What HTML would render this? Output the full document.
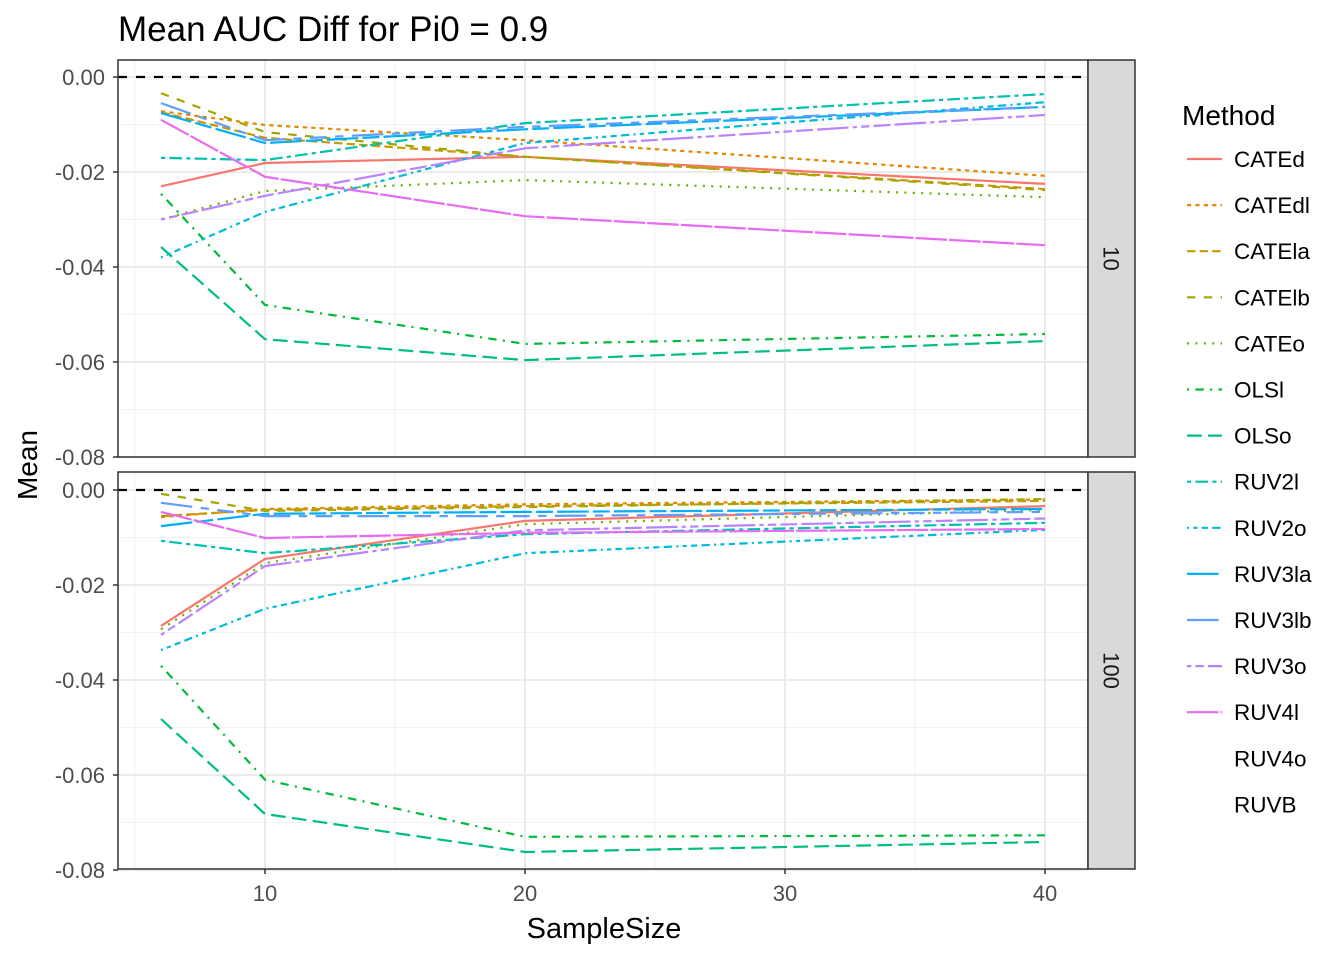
<!DOCTYPE html>
<html><head><meta charset="utf-8">
<style>
body{margin:0;background:#fff;}
svg{display:block;font-family:"Liberation Sans",sans-serif;}
</style></head>
<body>
<svg id="chart" width="1344" height="960" xmlns="http://www.w3.org/2000/svg"></svg>
<script>
const sampleSizes=[6,10,20,40];
const methods=["CATEd","CATEdl","CATEla","CATElb","CATEo","OLSl","OLSo","RUV2l","RUV2o","RUV3la","RUV3lb","RUV3o","RUV4l","RUV4o","RUVB"];
const panels=["10","100"];
const xTicks=[10,20,30,40];
const yTicks=[0,-0.02,-0.04,-0.06,-0.08];
const yTickLabels=["0.00","-0.02","-0.04","-0.06","-0.08"];
const p10CATEd=[-0.0230,-0.0181,-0.0168,-0.0225];
const p10CATEdl=[-0.0072,-0.0101,-0.0133,-0.0208];
const p10CATEla=[-0.0074,-0.0128,-0.0168,-0.0236];
const p10CATElb=[-0.0034,-0.0116,-0.0168,-0.0238];
const p10CATEo=[-0.0300,-0.0240,-0.0217,-0.0253];
const p10OLSl=[-0.0246,-0.0480,-0.0562,-0.0541];
const p10OLSo=[-0.0358,-0.0552,-0.0596,-0.0556];
const p10RUV2l=[-0.0170,-0.0175,-0.0097,-0.0036];
const p10RUV2o=[-0.0380,-0.0284,-0.0139,-0.0053];
const p10RUV3la=[-0.0076,-0.0139,-0.0110,-0.0063];
const p10RUV3lb=[-0.0055,-0.0133,-0.0105,-0.0063];
const p10RUV3o=[-0.0300,-0.0250,-0.0150,-0.0080];
const p10RUV4l=[-0.0090,-0.0210,-0.0293,-0.0354];
const p100CATEd=[-0.0286,-0.0145,-0.0065,-0.0034];
const p100CATEdl=[-0.0057,-0.0040,-0.0030,-0.0020];
const p100CATEla=[-0.0055,-0.0042,-0.0034,-0.0023];
const p100CATElb=[-0.0008,-0.0044,-0.0036,-0.0019];
const p100CATEo=[-0.0293,-0.0154,-0.0072,-0.0042];
const p100OLSl=[-0.0370,-0.0610,-0.0730,-0.0727];
const p100OLSo=[-0.0482,-0.0682,-0.0762,-0.0741];
const p100RUV2l=[-0.0107,-0.0133,-0.0093,-0.0069];
const p100RUV2o=[-0.0337,-0.0250,-0.0133,-0.0084];
const p100RUV3la=[-0.0076,-0.0050,-0.0046,-0.0040];
const p100RUV3lb=[-0.0027,-0.0055,-0.0055,-0.0046];
const p100RUV3o=[-0.0305,-0.0160,-0.0085,-0.0060];
const p100RUV4l=[-0.0046,-0.0101,-0.0090,-0.0082];
const series10=[p10CATEd,p10CATEdl,p10CATEla,p10CATElb,p10CATEo,p10OLSl,p10OLSo,p10RUV2l,p10RUV2o,p10RUV3la,p10RUV3lb,p10RUV3o,p10RUV4l,null,null];
const series100=[p100CATEd,p100CATEdl,p100CATEla,p100CATElb,p100CATEo,p100OLSl,p100OLSo,p100RUV2l,p100RUV2o,p100RUV3la,p100RUV3lb,p100RUV3o,p100RUV4l,null,null];

const colors=["#F8766D","#E58700","#C99800","#A3A500","#6BB100","#00BA38","#00BF7D","#00C0AF","#00BCD8","#00B0F6","#619CFF","#B983FF","#E76BF3","#FD61D1","#FF67A4"];
const ltHex=["","22","42","44","13","1343","73","2262","12223242","F282","F4448444","224282F2","F1","",""];
function dash(h){if(!h)return "";const u=2.1;return h.split("").map(c=>parseInt(c,16)*u).join(" ");}

const NS="http://www.w3.org/2000/svg";
const svg=document.getElementById("chart");
function mk(tag,attrs,parent){const e=document.createElementNS(NS,tag);for(const k in attrs)e.setAttribute(k,attrs[k]);(parent||svg).appendChild(e);return e;}

const PX0=118,PX1=1088;
const panelY=[[60,457],[472,869]];
const yZero=[77,490];
function xs(v){return 265+(v-10)*26;}
function ys(p,v){return yZero[p]+(-v)/0.02*95;}

let t=mk("text",{x:118,y:41,"font-size":35,fill:"#000"});


t.textContent="Mean AUC Diff for Pi0 = 0.9";

[series10,series100].forEach((series,p)=>{
  const [y0,y1]=panelY[p];
  const g=mk("g",{});
  
  
  mk("rect",{x:PX0,y:y0,width:PX1-PX0,height:y1-y0,fill:"#fff"},g);
  [5,15,25,35].forEach(v=>mk("line",{x1:xs(v),x2:xs(v),y1:y0,y2:y1,stroke:"#f2f2f2","stroke-width":1},g));
  [-0.01,-0.03,-0.05,-0.07].forEach(v=>mk("line",{x1:PX0,x2:PX1,y1:ys(p,v),y2:ys(p,v),stroke:"#f2f2f2","stroke-width":1},g));
  xTicks.forEach(v=>mk("line",{x1:xs(v),x2:xs(v),y1:y0,y2:y1,stroke:"#ebebeb","stroke-width":2},g));
  yTicks.forEach((v,i)=>{
    mk("line",{x1:PX0,x2:PX1,y1:ys(p,v),y2:ys(p,v),stroke:"#ebebeb","stroke-width":2},g);
    mk("line",{x1:PX0-5,x2:PX0,y1:ys(p,v),y2:ys(p,v),stroke:"#333","stroke-width":1.5},g);
    const tl=mk("text",{x:PX0-13,y:ys(p,v)+8,"font-size":22,fill:"#4d4d4d","text-anchor":"end"},g);
    
    
    tl.textContent=yTickLabels[i];
  });
  const rl=mk("line",{x1:PX0,x2:PX1,y1:ys(p,0),y2:ys(p,0),stroke:"#000","stroke-width":2.2,"stroke-dasharray":"9 9"},g);
  
  
  series.forEach((s,i)=>{
    if(!s)return;
    const pts=s.map((v,j)=>xs(sampleSizes[j]).toFixed(1)+","+ys(p,v).toFixed(1)).join(" ");
    const pl=mk("polyline",{points:pts,fill:"none",stroke:colors[i],"stroke-width":2.2,"stroke-dasharray":dash(ltHex[i])},g);
    
    
  });
  mk("rect",{x:PX0,y:y0,width:PX1-PX0,height:y1-y0,fill:"none",stroke:"#333","stroke-width":1.5},g);
  const st=mk("rect",{x:PX1,y:y0,width:47,height:y1-y0,fill:"#d9d9d9",stroke:"#333","stroke-width":1.5},g);
  
  
  const cy=(y0+y1)/2;
  const sl=mk("text",{x:1111,y:cy,"font-size":22,fill:"#1a1a1a","text-anchor":"middle","dominant-baseline":"central",transform:`rotate(90 1111 ${cy})`},g);
  
  
  sl.textContent=panels[p];
});
xTicks.forEach(v=>{
  mk("line",{x1:xs(v),x2:xs(v),y1:869,y2:874,stroke:"#333","stroke-width":1.5});
  const tl=mk("text",{x:xs(v),y:901,"font-size":22,fill:"#4d4d4d","text-anchor":"middle"});
  
  
  tl.textContent=v;
});
let xt=mk("text",{x:604,y:938,"font-size":29,fill:"#000","text-anchor":"middle"});


xt.textContent="SampleSize";
let yt=mk("text",{x:37,y:465,"font-size":28,fill:"#000","text-anchor":"middle",transform:"rotate(-90 37 465)"});


yt.textContent="Mean";
let lt=mk("text",{x:1182,y:125,"font-size":28,fill:"#000"});


lt.textContent="Method";
methods.forEach((m,i)=>{
  const y=159+i*46.1;
  const g=mk("g",{});
  
  
  if(i<13) mk("line",{x1:1187,x2:1222,y1:y,y2:y,stroke:colors[i],"stroke-width":2.2,"stroke-dasharray":dash(ltHex[i])},g);
  const tx=mk("text",{x:1234,y:y+8,"font-size":22.5,fill:"#000"},g);
  tx.textContent=m;
});
</script>
</body></html>
